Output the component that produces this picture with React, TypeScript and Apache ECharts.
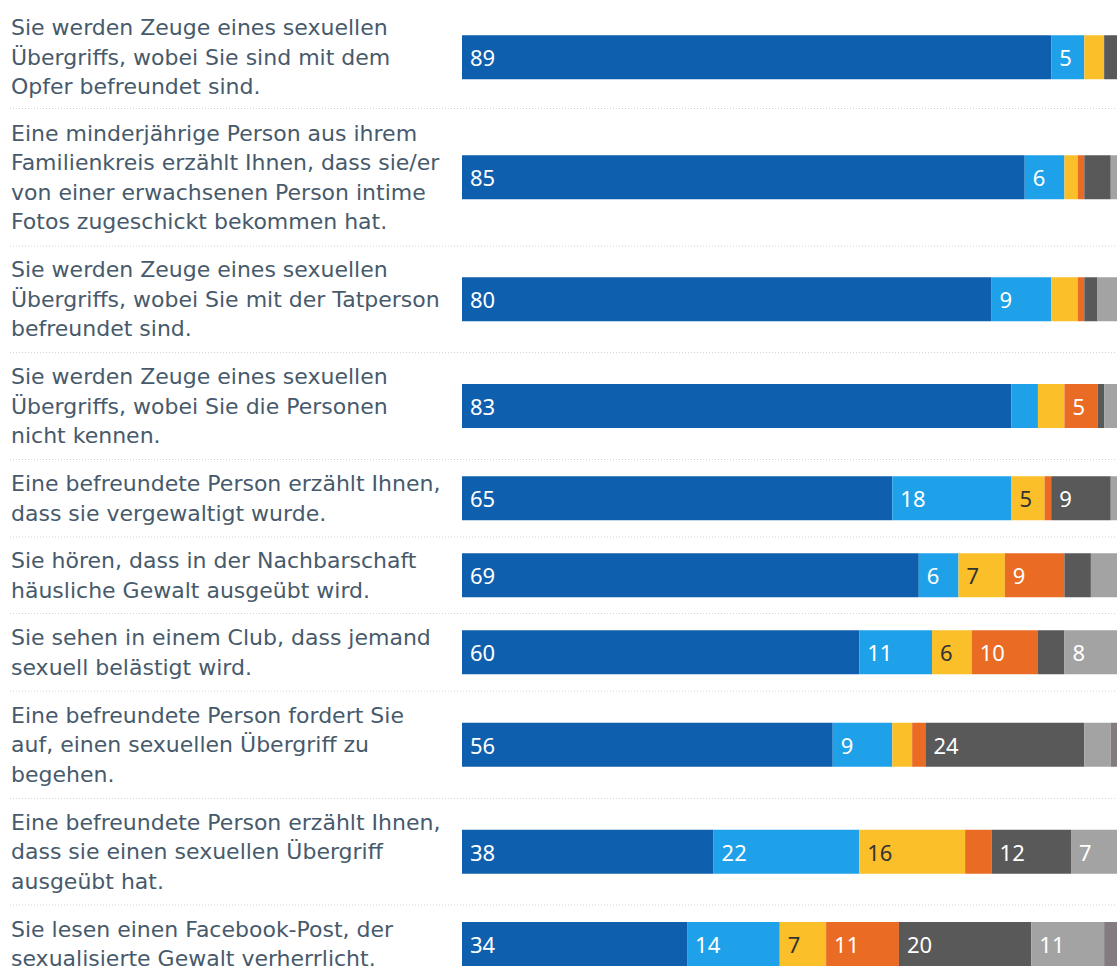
import React, { useEffect, useRef } from "react";
import * as echarts from "echarts";

const categories: string[] = [
  "Sie werden Zeuge eines sexuellen\nÜbergriffs, wobei Sie sind mit dem\nOpfer befreundet sind.",
  "Eine minderjährige Person aus ihrem\nFamilienkreis erzählt Ihnen, dass sie/er\nvon einer erwachsenen Person intime\nFotos zugeschickt bekommen hat.",
  "Sie werden Zeuge eines sexuellen\nÜbergriffs, wobei Sie mit der Tatperson\nbefreundet sind.",
  "Sie werden Zeuge eines sexuellen\nÜbergriffs, wobei Sie die Personen\nnicht kennen.",
  "Eine befreundete Person erzählt Ihnen,\ndass sie vergewaltigt wurde.",
  "Sie hören, dass in der Nachbarschaft\nhäusliche Gewalt ausgeübt wird.",
  "Sie sehen in einem Club, dass jemand\nsexuell belästigt wird.",
  "Eine befreundete Person fordert Sie\nauf, einen sexuellen Übergriff zu\nbegehen.",
  "Eine befreundete Person erzählt Ihnen,\ndass sie einen sexuellen Übergriff\nausgeübt hat.",
  "Sie lesen einen Facebook-Post, der\nsexualisierte Gewalt verherrlicht.",
];

const seriesNames: string[] = ["Antwort 1", "Antwort 2", "Antwort 3", "Antwort 4", "Antwort 5", "Antwort 6", "Antwort 7"];

const valuesDarkBlue: number[] = [89, 85, 80, 83, 65, 69, 60, 56, 38, 34];
const valuesLightBlue: number[] = [5, 6, 9, 4, 18, 6, 11, 9, 22, 14];
const valuesYellow: number[] = [3, 2, 4, 4, 5, 7, 6, 3, 16, 7];
const valuesOrange: number[] = [0, 1, 1, 5, 1, 9, 10, 2, 4, 11];
const valuesDarkGray: number[] = [3, 4, 2, 1, 9, 4, 4, 24, 12, 20];
const valuesLightGray: number[] = [0, 2, 4, 3, 2, 4, 8, 4, 7, 11];
const valuesMauve: number[] = [0, 0, 0, 0, 0, 1, 1, 2, 1, 3];

const allValues = [valuesDarkBlue, valuesLightBlue, valuesYellow, valuesOrange, valuesDarkGray, valuesLightGray, valuesMauve];
const colors = ["#0e5fad", "#1fa1ea", "#fbbf2a", "#e96b24", "#595959", "#a3a3a3", "#837b7f"];
const labelColors = ["#ffffff", "#ffffff", "#333333", "#ffffff", "#ffffff", "#ffffff", "#ffffff"];

// layout: row boundaries (px)
const rowEdges = [6, 108.5, 246, 352.5, 459.5, 537, 613.5, 691, 798.5, 905, 983];

const FONT = "'DejaVu Sans', 'Noto Sans', sans-serif";

export default function App() {
  const ref = useRef<HTMLDivElement>(null);
  useEffect(() => {
    if (!ref.current) return;
    const chart = echarts.init(ref.current, undefined, { renderer: "svg" });
    const grids: any[] = [];
    const xAxes: any[] = [];
    const yAxes: any[] = [];
    const series: any[] = [];
    categories.forEach((cat, i) => {
      const top = rowEdges[i];
      const h = rowEdges[i + 1] - rowEdges[i];
      grids.push({ left: 462, right: 0, top, height: h, containLabel: false });
      xAxes.push({ type: "value", gridIndex: i, min: 0, max: 100, show: false });
      yAxes.push({
        type: "category",
        gridIndex: i,
        data: [cat],
        axisLine: { show: false },
        axisTick: { show: false },
        splitLine: { show: false },
        axisLabel: {
          margin: 451,
          align: "left",
          fontSize: 22,
          lineHeight: 29.5,
          color: "#475a6b",
          fontFamily: FONT,
        },
      });
      allValues.forEach((vals, s) => {
        const v = vals[i];
        series.push({
          type: "bar",
          name: seriesNames[s],
          stack: "row" + i,
          xAxisIndex: i,
          yAxisIndex: i,
          barWidth: 44,
          data: [v],
          itemStyle: { color: colors[s] },
          label: {
            show: v >= 5,
            position: "insideLeft",
            distance: 8,
            color: labelColors[s],
            fontSize: 22,
            fontFamily: "'Noto Sans', sans-serif",
          },
        });
      });
    });
    const graphics: any[] = rowEdges.slice(1, rowEdges.length - 1).map((y) => ({
      type: "line",
      shape: { x1: 10, y1: y, x2: 1124, y2: y },
      style: { stroke: "#d4d4d4", lineWidth: 1, lineDash: [1, 2] },
      silent: true,
    }));
    chart.setOption({
      animation: false,
      grid: grids,
      xAxis: xAxes,
      yAxis: yAxes,
      series,
      graphic: graphics,
    });
    return () => chart.dispose();
  }, []);
  return (
    <div
      ref={ref}
      style={{ position: "fixed", left: 0, top: 0, width: 1124, height: 990, background: "#fff" }}
    />
  );
}
